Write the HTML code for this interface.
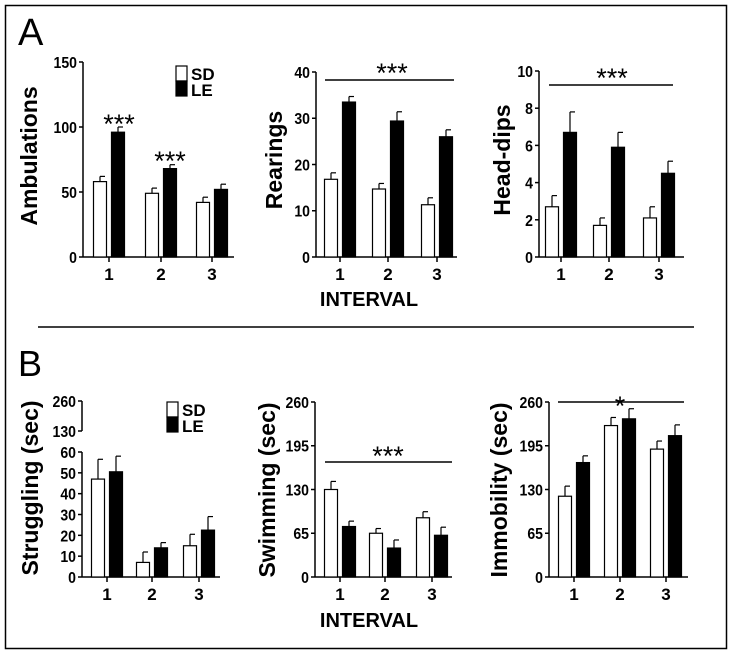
<!DOCTYPE html>
<html><head><meta charset="utf-8"><style>
html,body{margin:0;padding:0;background:#fff;}
svg text{font-family:"Liberation Sans",Arial,sans-serif;font-weight:bold;fill:#000;}
</style></head><body>
<svg id="fig" width="733" height="655" viewBox="0 0 733 655" xmlns="http://www.w3.org/2000/svg">
<rect x="5.5" y="5.5" width="721" height="643" fill="#fff" stroke="#000" stroke-width="1.5"/>
<text x="18" y="45" font-size="38" style="font-weight:normal">A</text>
<text x="18" y="376" font-size="36" style="font-weight:normal">B</text>
<line x1="38" y1="327" x2="694" y2="327" stroke="#000" stroke-width="1.5"/>
<text x="369" y="306" font-size="20" text-anchor="middle">INTERVAL</text>
<text x="369" y="627" font-size="20" text-anchor="middle">INTERVAL</text>
<g id="plots"></g>
</svg>
<script>
const categories = ["1","2","3"];
const ambSD = [58,49,42], ambSDerr = [4,4,4], ambLE = [96,68,52], ambLEerr = [4,3,4];
const rearSD = [16.8,14.7,11.3], rearSDerr = [1.4,1.2,1.5], rearLE = [33.5,29.4,26], rearLEerr = [1.2,2,1.5];
const headSD = [2.7,1.7,2.1], headSDerr = [0.6,0.4,0.6], headLE = [6.7,5.9,4.5], headLEerr = [1.1,0.8,0.65];
const strugSD = [47,7,15], strugSDerr = [9.5,5,5.5], strugLE = [50.5,14,22.5], strugLEerr = [7.5,2.5,6.5];
const swimSD = [130,65,88], swimSDerr = [12,7,9], swimLE = [75,43,62], swimLEerr = [8,12,12];
const immSD = [120,225,190], immSDerr = [15,12,12], immLE = [170,235,210], immLEerr = [10,15,16];
const ticksAmb = [0,50,100,150], ticksRear = [0,10,20,30,40], ticksHead = [0,2,4,6,8,10];
const ticksStrug = [0,10,20,30,40,50,60,130,260], ticksSec = [0,65,130,195,260];

const NS="http://www.w3.org/2000/svg";
const root=document.getElementById('plots');
function mk(tag,attrs,parent){const e=document.createElementNS(NS,tag);for(const k in attrs)e.setAttribute(k,attrs[k]);(parent||root).appendChild(e);return e;}

function panel(o){
  const g=mk('g',{});
  
  
  const y=o.yfn;
  if(o.broken){
    mk('line',{x1:o.x0,y1:y(0),x2:o.x0,y2:y(60),stroke:'#000','stroke-width':1.5},g);
    mk('line',{x1:o.x0,y1:y(130),x2:o.x0,y2:y(260),stroke:'#000','stroke-width':1.5},g);
  } else {
    mk('line',{x1:o.x0,y1:y(0),x2:o.x0,y2:y(o.ticks[o.ticks.length-1]),stroke:'#000','stroke-width':1.5},g);
  }
  mk('line',{x1:o.x0,y1:o.base,x2:o.x1,y2:o.base,stroke:'#000','stroke-width':1.5},g);
  o.ticks.forEach(t=>{
    mk('line',{x1:o.x0-4,y1:y(t),x2:o.x0,y2:y(t),stroke:'#000','stroke-width':1.5},g);
    const tx=mk('text',{x:o.x0-6,y:y(t)+6,'font-size':16,'text-anchor':'end',transform:`translate(${(o.x0-6)*0.12},0) scale(0.88,1)`},g);
    tx.textContent=t;
    
    
  });
  categories.forEach((c,i)=>{
    const cx=o.cx[i];
    mk('line',{x1:cx,y1:o.base,x2:cx,y2:o.base+5,stroke:'#000','stroke-width':1.5},g);
    const tx=mk('text',{x:cx,y:o.base+23,'font-size':17,'text-anchor':'middle'},g);
    tx.textContent=c;
    
    
    [[o.sd,o.sde,-9,'#fff','sd'],[o.le,o.lee,9,'#000','le']].forEach(s=>{
      const v=s[0][i], e=s[1][i], bx=cx+s[2]-6.5;
      mk('line',{x1:cx+s[2],y1:y(v),x2:cx+s[2],y2:y(v+e),stroke:'#000','stroke-width':1.2},g);
      mk('line',{x1:cx+s[2],y1:y(v+e),x2:cx+s[2]+5,y2:y(v+e),stroke:'#000','stroke-width':1.2},g);
      const r=mk('rect',{x:bx,y:y(v),width:13,height:o.base-y(v),fill:s[3],stroke:'#000','stroke-width':1.2},g);
      
      
    });
  });
  const yt=mk('text',{transform:`translate(${o.tx},${o.ty}) rotate(-90)`,'font-size':23,'text-anchor':'middle'},g);
  yt.textContent=o.title;
  
  
}
function lin(d0,p0,d1,p1){return v=>p0+(v-d0)*(p1-p0)/(d1-d0);}
function brokenY(v){ if(v<=60) return 577+(v/60)*(452-577); return 431+(v-130)/130*(401-431); }

panel({name:'ambulations-chart',x0:83,x1:234,base:257,yfn:lin(0,257,150,62),ticks:ticksAmb,cx:[109,161,212],sd:ambSD,sde:ambSDerr,le:ambLE,lee:ambLEerr,title:'Ambulations',tx:37,ty:156});
panel({name:'rearings-chart',x0:316,x1:457,base:257,yfn:lin(0,257,40,72),ticks:ticksRear,cx:[340,388,437],sd:rearSD,sde:rearSDerr,le:rearLE,lee:rearLEerr,title:'Rearings',tx:282,ty:160});
panel({name:'head-dips-chart',x0:539,x1:684,base:257,yfn:lin(0,257,10,71),ticks:ticksHead,cx:[561,609,659],sd:headSD,sde:headSDerr,le:headLE,lee:headLEerr,title:'Head-dips',tx:510,ty:160});
panel({name:'struggling-chart',x0:82,x1:220,base:577,yfn:brokenY,broken:true,ticks:ticksStrug,cx:[107,152,199],sd:strugSD,sde:strugSDerr,le:strugLE,lee:strugLEerr,title:'Struggling (sec)',tx:38,ty:488});
panel({name:'swimming-chart',x0:315,x1:452,base:577,yfn:lin(0,577,260,402),ticks:ticksSec,cx:[340,385,432],sd:swimSD,sde:swimSDerr,le:swimLE,lee:swimLEerr,title:'Swimming (sec)',tx:275,ty:490});
panel({name:'immobility-chart',x0:549,x1:688,base:577,yfn:lin(0,577,260,402),ticks:ticksSec,cx:[574,620,666],sd:immSD,sde:immSDerr,le:immLE,lee:immLEerr,title:'Immobility (sec)',tx:507,ty:490});

function stars(x,y,s,name){const t=mk('text',{x:x,y:y,'font-size':27,'text-anchor':'middle',style:'font-weight:normal'});t.textContent=s;

}
function sline(x1,x2,y,name){const l=mk('line',{x1:x1,y1:y,x2:x2,y2:y,stroke:'#000','stroke-width':1.5});

}
stars(119,133,'***','sig-amb-1');
stars(170,170,'***','sig-amb-2');
sline(325,454,80,'sig-line-rearings'); stars(392,82,'***','sig-rearings');
sline(549,673,85,'sig-line-head-dips'); stars(612,87,'***','sig-head-dips');
sline(325,452,462,'sig-line-swimming'); stars(388,465,'***','sig-swimming');
sline(558,684,402,'sig-line-immobility'); stars(620,415,'*','sig-immobility');

function legend(x,y,name){
  const g=mk('g',{});
  
  
  mk('rect',{x:x,y:y,width:11,height:15,fill:'#fff',stroke:'#000','stroke-width':1.2},g);
  mk('rect',{x:x,y:y+15,width:11,height:15,fill:'#000',stroke:'#000','stroke-width':1.2},g);
  const a=mk('text',{x:x+15,y:y+14,'font-size':17},g);a.textContent='SD';
  const b=mk('text',{x:x+15,y:y+30,'font-size':17},g);b.textContent='LE';
}
legend(176,66,'legend-a');
legend(167,402,'legend-b');
</script>
</body></html>
